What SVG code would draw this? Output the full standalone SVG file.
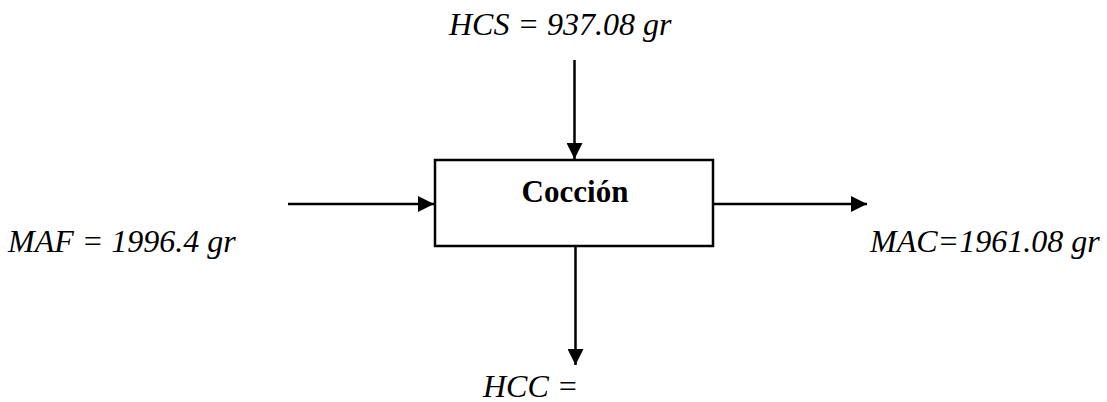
<svg xmlns="http://www.w3.org/2000/svg" width="1107" height="402" viewBox="0 0 1107 402">
<style>
.lbl{font-family:'Liberation Serif',serif;font-style:italic;font-size:32px;fill:#000}
.title{font-family:'Liberation Serif',serif;font-weight:bold;font-size:31px;fill:#000}
.conn{stroke:#000;stroke-width:2.5;fill:none}
</style>
<defs>
<marker id="arr" markerWidth="16" markerHeight="16" viewBox="0 0 16 16" refX="16" refY="8" orient="auto" markerUnits="userSpaceOnUse">
<path d="M0,0 L16,8 L0,16 Z" fill="#000"/>
</marker>
</defs>
<rect width="1107" height="402" fill="#fff"/>
<g id="coccion">
<rect x="435" y="160" width="278" height="86" fill="#fff" stroke="#000" stroke-width="2.5"/>
<text class="title" x="575" y="202" text-anchor="middle">Cocción</text>
</g>
<g id="hcs"><text class="lbl" x="449" y="35">HCS = 937.08 gr</text></g>
<g id="maf"><text class="lbl" x="8" y="252">MAF = 1996.4 gr</text></g>
<g id="mac"><text class="lbl" x="870" y="252">MAC=1961.08 gr</text></g>
<g id="hcc"><text class="lbl" x="483" y="397">HCC =</text></g>
<g id="connectors">
<line class="conn" x1="574.5" y1="60" x2="574.5" y2="159" marker-end="url(#arr)"/>
<line class="conn" x1="288" y1="204" x2="434" y2="204" marker-end="url(#arr)"/>
<line class="conn" x1="713" y1="204" x2="867" y2="204" marker-end="url(#arr)"/>
<line class="conn" x1="575.5" y1="246" x2="575.5" y2="365" marker-end="url(#arr)"/>
</g>
</svg>
